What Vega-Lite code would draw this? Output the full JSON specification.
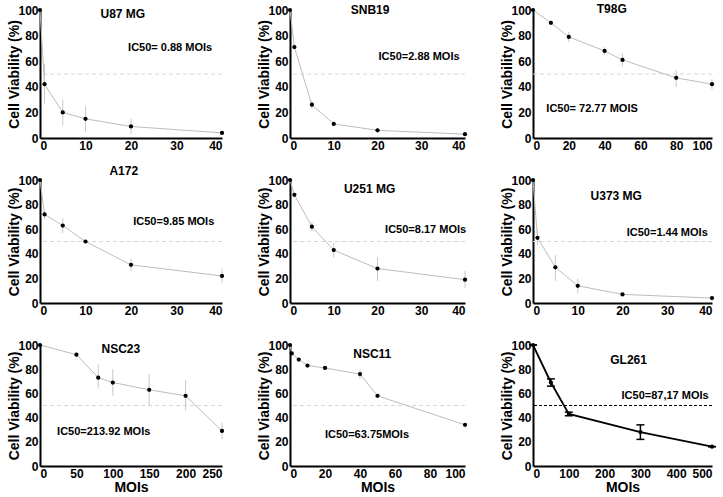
{
  "$schema": "https://vega.github.io/schema/vega-lite/v6.json",
  "background": "white",
  "padding": {"left": 7, "top": 2, "right": 0, "bottom": 0},
  "config": {
    "view": {"stroke": null},
    "axis": {"domainColor": "black", "domainWidth": 2, "ticks": false, "grid": false, "labelFont": "Liberation Sans", "labelFontWeight": "bold", "labelFontSize": 12, "labelColor": "black", "labelPadding": 2, "titleFont": "Liberation Sans", "titleFontWeight": "bold", "titleFontSize": 14, "titleColor": "black", "titlePadding": 1, "labelOverlap": false, "labelBound": false},
    "axisY": {"values": [0, 20, 40, 60, 80, 100], "titlePadding": -4},
    "text": {"font": "Liberation Sans", "fontWeight": "bold", "color": "black"}
  },
  "datasets": {
    "u87": [{"moi":0,"v":100,"lo":100,"hi":100},{"moi":1,"v":42,"lo":27,"hi":58},{"moi":5,"v":20,"lo":10,"hi":30},{"moi":10,"v":15,"lo":5,"hi":25},{"moi":20,"v":9,"lo":3,"hi":15},{"moi":40,"v":4,"lo":3,"hi":5}],
    "snb19": [{"moi":0,"v":100,"lo":100,"hi":100},{"moi":1,"v":71,"lo":70,"hi":72},{"moi":5,"v":26,"lo":23,"hi":29},{"moi":10,"v":11,"lo":10,"hi":12},{"moi":20,"v":6,"lo":5.5,"hi":6.5},{"moi":40,"v":3,"lo":2.5,"hi":3.5}],
    "t98g": [{"moi":0,"v":100,"lo":100,"hi":100},{"moi":10,"v":90,"lo":88,"hi":92},{"moi":20,"v":79,"lo":75,"hi":83},{"moi":40,"v":68,"lo":65,"hi":71},{"moi":50,"v":61,"lo":56,"hi":66},{"moi":80,"v":47,"lo":40,"hi":53},{"moi":100,"v":42,"lo":38,"hi":46}],
    "a172": [{"moi":0,"v":100,"lo":100,"hi":100},{"moi":1,"v":72,"lo":68,"hi":75},{"moi":5,"v":63,"lo":57,"hi":69},{"moi":10,"v":50,"lo":49,"hi":51},{"moi":20,"v":31,"lo":26,"hi":36},{"moi":40,"v":22,"lo":16,"hi":28}],
    "u251": [{"moi":0,"v":100,"lo":100,"hi":100},{"moi":1,"v":88,"lo":87,"hi":89},{"moi":5,"v":62,"lo":58,"hi":66},{"moi":10,"v":43,"lo":37,"hi":49},{"moi":20,"v":28,"lo":18,"hi":37},{"moi":40,"v":19,"lo":12,"hi":26}],
    "u373": [{"moi":0,"v":100,"lo":100,"hi":100},{"moi":1,"v":53,"lo":47,"hi":59},{"moi":5,"v":29,"lo":18,"hi":39},{"moi":10,"v":14,"lo":8,"hi":20},{"moi":20,"v":7,"lo":6,"hi":8},{"moi":40,"v":4,"lo":3,"hi":5}],
    "nsc23": [{"moi":0,"v":100,"lo":100,"hi":100},{"moi":50,"v":92,"lo":90,"hi":94},{"moi":80,"v":73,"lo":64,"hi":84},{"moi":100,"v":69,"lo":58,"hi":80},{"moi":150,"v":63,"lo":50,"hi":76},{"moi":200,"v":58,"lo":46,"hi":71},{"moi":250,"v":29,"lo":22,"hi":36}],
    "nsc11": [{"moi":0,"v":100,"lo":100,"hi":100},{"moi":1,"v":93,"lo":93,"hi":93},{"moi":5,"v":88,"lo":88,"hi":88},{"moi":10,"v":83,"lo":83,"hi":83},{"moi":20,"v":81,"lo":81,"hi":81},{"moi":40,"v":76,"lo":72,"hi":80},{"moi":50,"v":58,"lo":58,"hi":58},{"moi":100,"v":34,"lo":34,"hi":34}],
    "gl261": [{"moi":0,"v":100,"lo":100,"hi":100},{"moi":50,"v":69,"lo":66,"hi":72},{"moi":100,"v":43,"lo":41.5,"hi":44.5},{"moi":300,"v":28,"lo":22,"hi":34},{"moi":500,"v":16,"lo":16,"hi":16}],
    "one": [{}]
  },
  "columns": 3,
  "bounds": "flush",
  "align": "each",
  "spacing": {"row": 42, "column": 68},
  "resolve": {"scale": {"x": "independent", "y": "independent"}},
  "concat": [
    {
      "width": 182, "height": 128,
      "layer": [
        {"data": {"name": "one"}, "mark": {"type": "rule", "color": "#d8d8d8", "strokeDash": [4, 3], "strokeWidth": 1}, "encoding": {"y": {"datum": 50, "type": "quantitative", "title": "Cell Viability (%)", "scale": {"domain": [0, 100], "nice": false}}}},
        {"data": {"name": "u87"}, "mark": {"type": "rule", "color": "#c8c8c8", "strokeWidth": 1}, "encoding": {"x": {"field": "moi", "type": "quantitative", "title": null, "scale": {"domain": [0, 40], "nice": false}, "axis": {"values": [0, 10, 20, 30, 40]}}, "y": {"field": "lo", "type": "quantitative", "title": "Cell Viability (%)"}, "y2": {"field": "hi"}}},
        {"data": {"name": "u87"}, "mark": {"type": "line", "color": "#bdbdbd", "strokeWidth": 1}, "encoding": {"x": {"field": "moi", "type": "quantitative", "title": null, "axis": {"values": [0, 10, 20, 30, 40]}}, "y": {"field": "v", "type": "quantitative", "title": "Cell Viability (%)"}}},
        {"data": {"name": "u87"}, "mark": {"type": "point", "filled": true, "color": "black", "size": 18, "opacity": 1}, "encoding": {"x": {"field": "moi", "type": "quantitative", "title": null, "axis": {"values": [0, 10, 20, 30, 40]}}, "y": {"field": "v", "type": "quantitative", "title": "Cell Viability (%)"}}},
        {"data": {"name": "one"}, "mark": {"type": "text", "fontSize": 12}, "encoding": {"x": {"datum": 18.2, "type": "quantitative", "title": null, "axis": {"values": [0, 10, 20, 30, 40]}}, "y": {"datum": 97, "type": "quantitative", "title": "Cell Viability (%)"}, "text": {"value": "U87 MG"}}},
        {"data": {"name": "one"}, "mark": {"type": "text", "fontSize": 11}, "encoding": {"x": {"datum": 28.6, "type": "quantitative", "title": null, "axis": {"values": [0, 10, 20, 30, 40]}}, "y": {"datum": 70, "type": "quantitative", "title": "Cell Viability (%)"}, "text": {"value": "IC50= 0.88 MOIs"}}}
      ]
    },
    {
      "width": 175, "height": 128,
      "layer": [
        {"data": {"name": "one"}, "mark": {"type": "rule", "color": "#d8d8d8", "strokeDash": [4, 3], "strokeWidth": 1}, "encoding": {"y": {"datum": 50, "type": "quantitative", "title": "Cell Viability (%)", "scale": {"domain": [0, 100], "nice": false}}}},
        {"data": {"name": "snb19"}, "mark": {"type": "rule", "color": "#c8c8c8", "strokeWidth": 1}, "encoding": {"x": {"field": "moi", "type": "quantitative", "title": null, "scale": {"domain": [0, 40], "nice": false}, "axis": {"values": [0, 10, 20, 30, 40]}}, "y": {"field": "lo", "type": "quantitative", "title": "Cell Viability (%)"}, "y2": {"field": "hi"}}},
        {"data": {"name": "snb19"}, "mark": {"type": "line", "color": "#bdbdbd", "strokeWidth": 1}, "encoding": {"x": {"field": "moi", "type": "quantitative", "title": null, "axis": {"values": [0, 10, 20, 30, 40]}}, "y": {"field": "v", "type": "quantitative", "title": "Cell Viability (%)"}}},
        {"data": {"name": "snb19"}, "mark": {"type": "point", "filled": true, "color": "black", "size": 18, "opacity": 1}, "encoding": {"x": {"field": "moi", "type": "quantitative", "title": null, "axis": {"values": [0, 10, 20, 30, 40]}}, "y": {"field": "v", "type": "quantitative", "title": "Cell Viability (%)"}}},
        {"data": {"name": "one"}, "mark": {"type": "text", "fontSize": 12}, "encoding": {"x": {"datum": 18.3, "type": "quantitative", "title": null, "axis": {"values": [0, 10, 20, 30, 40]}}, "y": {"datum": 100, "type": "quantitative", "title": "Cell Viability (%)"}, "text": {"value": "SNB19"}}},
        {"data": {"name": "one"}, "mark": {"type": "text", "fontSize": 11}, "encoding": {"x": {"datum": 29.5, "type": "quantitative", "title": null, "axis": {"values": [0, 10, 20, 30, 40]}}, "y": {"datum": 63, "type": "quantitative", "title": "Cell Viability (%)"}, "text": {"value": "IC50=2.88 MOIs"}}}
      ]
    },
    {
      "width": 179, "height": 128,
      "layer": [
        {"data": {"name": "one"}, "mark": {"type": "rule", "color": "#d8d8d8", "strokeDash": [4, 3], "strokeWidth": 1}, "encoding": {"y": {"datum": 50, "type": "quantitative", "title": "Cell Viability (%)", "scale": {"domain": [0, 100], "nice": false}}}},
        {"data": {"name": "t98g"}, "mark": {"type": "rule", "color": "#c8c8c8", "strokeWidth": 1}, "encoding": {"x": {"field": "moi", "type": "quantitative", "title": null, "scale": {"domain": [0, 100], "nice": false}, "axis": {"values": [0, 20, 40, 60, 80, 100]}}, "y": {"field": "lo", "type": "quantitative", "title": "Cell Viability (%)"}, "y2": {"field": "hi"}}},
        {"data": {"name": "t98g"}, "mark": {"type": "line", "color": "#bdbdbd", "strokeWidth": 1}, "encoding": {"x": {"field": "moi", "type": "quantitative", "title": null, "axis": {"values": [0, 20, 40, 60, 80, 100]}}, "y": {"field": "v", "type": "quantitative", "title": "Cell Viability (%)"}}},
        {"data": {"name": "t98g"}, "mark": {"type": "point", "filled": true, "color": "black", "size": 18, "opacity": 1}, "encoding": {"x": {"field": "moi", "type": "quantitative", "title": null, "axis": {"values": [0, 20, 40, 60, 80, 100]}}, "y": {"field": "v", "type": "quantitative", "title": "Cell Viability (%)"}}},
        {"data": {"name": "one"}, "mark": {"type": "text", "fontSize": 12}, "encoding": {"x": {"datum": 44, "type": "quantitative", "title": null, "axis": {"values": [0, 20, 40, 60, 80, 100]}}, "y": {"datum": 101, "type": "quantitative", "title": "Cell Viability (%)"}, "text": {"value": "T98G"}}},
        {"data": {"name": "one"}, "mark": {"type": "text", "fontSize": 11}, "encoding": {"x": {"datum": 33, "type": "quantitative", "title": null, "axis": {"values": [0, 20, 40, 60, 80, 100]}}, "y": {"datum": 23, "type": "quantitative", "title": "Cell Viability (%)"}, "text": {"value": "IC50= 72.77 MOIS"}}}
      ]
    },
    {
      "width": 182, "height": 123,
      "layer": [
        {"data": {"name": "one"}, "mark": {"type": "rule", "color": "#d8d8d8", "strokeDash": [4, 3], "strokeWidth": 1}, "encoding": {"y": {"datum": 50, "type": "quantitative", "title": "Cell Viability (%)", "scale": {"domain": [0, 100], "nice": false}}}},
        {"data": {"name": "a172"}, "mark": {"type": "rule", "color": "#c8c8c8", "strokeWidth": 1}, "encoding": {"x": {"field": "moi", "type": "quantitative", "title": null, "scale": {"domain": [0, 40], "nice": false}, "axis": {"values": [0, 10, 20, 30, 40]}}, "y": {"field": "lo", "type": "quantitative", "title": "Cell Viability (%)"}, "y2": {"field": "hi"}}},
        {"data": {"name": "a172"}, "mark": {"type": "line", "color": "#bdbdbd", "strokeWidth": 1}, "encoding": {"x": {"field": "moi", "type": "quantitative", "title": null, "axis": {"values": [0, 10, 20, 30, 40]}}, "y": {"field": "v", "type": "quantitative", "title": "Cell Viability (%)"}}},
        {"data": {"name": "a172"}, "mark": {"type": "point", "filled": true, "color": "black", "size": 18, "opacity": 1}, "encoding": {"x": {"field": "moi", "type": "quantitative", "title": null, "axis": {"values": [0, 10, 20, 30, 40]}}, "y": {"field": "v", "type": "quantitative", "title": "Cell Viability (%)"}}},
        {"data": {"name": "one"}, "mark": {"type": "text", "fontSize": 12}, "encoding": {"x": {"datum": 18.4, "type": "quantitative", "title": null, "axis": {"values": [0, 10, 20, 30, 40]}}, "y": {"datum": 107, "type": "quantitative", "title": "Cell Viability (%)"}, "text": {"value": "A172"}}},
        {"data": {"name": "one"}, "mark": {"type": "text", "fontSize": 11}, "encoding": {"x": {"datum": 29.4, "type": "quantitative", "title": null, "axis": {"values": [0, 10, 20, 30, 40]}}, "y": {"datum": 66, "type": "quantitative", "title": "Cell Viability (%)"}, "text": {"value": "IC50=9.85 MOIs"}}}
      ]
    },
    {
      "width": 175, "height": 123,
      "layer": [
        {"data": {"name": "one"}, "mark": {"type": "rule", "color": "#d8d8d8", "strokeDash": [4, 3], "strokeWidth": 1}, "encoding": {"y": {"datum": 50, "type": "quantitative", "title": "Cell Viability (%)", "scale": {"domain": [0, 100], "nice": false}}}},
        {"data": {"name": "u251"}, "mark": {"type": "rule", "color": "#c8c8c8", "strokeWidth": 1}, "encoding": {"x": {"field": "moi", "type": "quantitative", "title": null, "scale": {"domain": [0, 40], "nice": false}, "axis": {"values": [0, 10, 20, 30, 40]}}, "y": {"field": "lo", "type": "quantitative", "title": "Cell Viability (%)"}, "y2": {"field": "hi"}}},
        {"data": {"name": "u251"}, "mark": {"type": "line", "color": "#bdbdbd", "strokeWidth": 1}, "encoding": {"x": {"field": "moi", "type": "quantitative", "title": null, "axis": {"values": [0, 10, 20, 30, 40]}}, "y": {"field": "v", "type": "quantitative", "title": "Cell Viability (%)"}}},
        {"data": {"name": "u251"}, "mark": {"type": "point", "filled": true, "color": "black", "size": 18, "opacity": 1}, "encoding": {"x": {"field": "moi", "type": "quantitative", "title": null, "axis": {"values": [0, 10, 20, 30, 40]}}, "y": {"field": "v", "type": "quantitative", "title": "Cell Viability (%)"}}},
        {"data": {"name": "one"}, "mark": {"type": "text", "fontSize": 12}, "encoding": {"x": {"datum": 18.2, "type": "quantitative", "title": null, "axis": {"values": [0, 10, 20, 30, 40]}}, "y": {"datum": 93, "type": "quantitative", "title": "Cell Viability (%)"}, "text": {"value": "U251 MG"}}},
        {"data": {"name": "one"}, "mark": {"type": "text", "fontSize": 11}, "encoding": {"x": {"datum": 31, "type": "quantitative", "title": null, "axis": {"values": [0, 10, 20, 30, 40]}}, "y": {"datum": 59.5, "type": "quantitative", "title": "Cell Viability (%)"}, "text": {"value": "IC50=8.17 MOIs"}}}
      ]
    },
    {
      "width": 179, "height": 123,
      "layer": [
        {"data": {"name": "one"}, "mark": {"type": "rule", "color": "#d8d8d8", "strokeDash": [4, 3], "strokeWidth": 1}, "encoding": {"y": {"datum": 50, "type": "quantitative", "title": "Cell Viability (%)", "scale": {"domain": [0, 100], "nice": false}}}},
        {"data": {"name": "u373"}, "mark": {"type": "rule", "color": "#c8c8c8", "strokeWidth": 1}, "encoding": {"x": {"field": "moi", "type": "quantitative", "title": null, "scale": {"domain": [0, 40], "nice": false}, "axis": {"values": [0, 10, 20, 30, 40]}}, "y": {"field": "lo", "type": "quantitative", "title": "Cell Viability (%)"}, "y2": {"field": "hi"}}},
        {"data": {"name": "u373"}, "mark": {"type": "line", "color": "#bdbdbd", "strokeWidth": 1}, "encoding": {"x": {"field": "moi", "type": "quantitative", "title": null, "axis": {"values": [0, 10, 20, 30, 40]}}, "y": {"field": "v", "type": "quantitative", "title": "Cell Viability (%)"}}},
        {"data": {"name": "u373"}, "mark": {"type": "point", "filled": true, "color": "black", "size": 18, "opacity": 1}, "encoding": {"x": {"field": "moi", "type": "quantitative", "title": null, "axis": {"values": [0, 10, 20, 30, 40]}}, "y": {"field": "v", "type": "quantitative", "title": "Cell Viability (%)"}}},
        {"data": {"name": "one"}, "mark": {"type": "text", "fontSize": 12}, "encoding": {"x": {"datum": 18.6, "type": "quantitative", "title": null, "axis": {"values": [0, 10, 20, 30, 40]}}, "y": {"datum": 87, "type": "quantitative", "title": "Cell Viability (%)"}, "text": {"value": "U373 MG"}}},
        {"data": {"name": "one"}, "mark": {"type": "text", "fontSize": 11}, "encoding": {"x": {"datum": 30, "type": "quantitative", "title": null, "axis": {"values": [0, 10, 20, 30, 40]}}, "y": {"datum": 57, "type": "quantitative", "title": "Cell Viability (%)"}, "text": {"value": "IC50=1.44 MOIs"}}}
      ]
    },
    {
      "width": 182, "height": 121,
      "layer": [
        {"data": {"name": "one"}, "mark": {"type": "rule", "color": "#d8d8d8", "strokeDash": [4, 3], "strokeWidth": 1}, "encoding": {"y": {"datum": 50, "type": "quantitative", "title": "Cell Viability (%)", "scale": {"domain": [0, 100], "nice": false}}}},
        {"data": {"name": "nsc23"}, "mark": {"type": "rule", "color": "#c8c8c8", "strokeWidth": 1}, "encoding": {"x": {"field": "moi", "type": "quantitative", "title": "MOIs", "scale": {"domain": [0, 250], "nice": false}, "axis": {"values": [0, 50, 100, 150, 200, 250]}}, "y": {"field": "lo", "type": "quantitative", "title": "Cell Viability (%)"}, "y2": {"field": "hi"}}},
        {"data": {"name": "nsc23"}, "mark": {"type": "line", "color": "#bdbdbd", "strokeWidth": 1}, "encoding": {"x": {"field": "moi", "type": "quantitative", "title": "MOIs", "axis": {"values": [0, 50, 100, 150, 200, 250]}}, "y": {"field": "v", "type": "quantitative", "title": "Cell Viability (%)"}}},
        {"data": {"name": "nsc23"}, "mark": {"type": "point", "filled": true, "color": "black", "size": 18, "opacity": 1}, "encoding": {"x": {"field": "moi", "type": "quantitative", "title": "MOIs", "axis": {"values": [0, 50, 100, 150, 200, 250]}}, "y": {"field": "v", "type": "quantitative", "title": "Cell Viability (%)"}}},
        {"data": {"name": "one"}, "mark": {"type": "text", "fontSize": 12}, "encoding": {"x": {"datum": 111, "type": "quantitative", "title": "MOIs", "axis": {"values": [0, 50, 100, 150, 200, 250]}}, "y": {"datum": 97, "type": "quantitative", "title": "Cell Viability (%)"}, "text": {"value": "NSC23"}}},
        {"data": {"name": "one"}, "mark": {"type": "text", "fontSize": 11}, "encoding": {"x": {"datum": 87.5, "type": "quantitative", "title": "MOIs", "axis": {"values": [0, 50, 100, 150, 200, 250]}}, "y": {"datum": 28, "type": "quantitative", "title": "Cell Viability (%)"}, "text": {"value": "IC50=213.92 MOIs"}}}
      ]
    },
    {
      "width": 175, "height": 121,
      "layer": [
        {"data": {"name": "one"}, "mark": {"type": "rule", "color": "#d8d8d8", "strokeDash": [4, 3], "strokeWidth": 1}, "encoding": {"y": {"datum": 50, "type": "quantitative", "title": "Cell Viability (%)", "scale": {"domain": [0, 100], "nice": false}}}},
        {"data": {"name": "nsc11"}, "mark": {"type": "rule", "color": "#c8c8c8", "strokeWidth": 1}, "encoding": {"x": {"field": "moi", "type": "quantitative", "title": "MOIs", "scale": {"domain": [0, 100], "nice": false}, "axis": {"values": [0, 20, 40, 60, 80, 100]}}, "y": {"field": "lo", "type": "quantitative", "title": "Cell Viability (%)"}, "y2": {"field": "hi"}}},
        {"data": {"name": "nsc11"}, "mark": {"type": "line", "color": "#bdbdbd", "strokeWidth": 1}, "encoding": {"x": {"field": "moi", "type": "quantitative", "title": "MOIs", "axis": {"values": [0, 20, 40, 60, 80, 100]}}, "y": {"field": "v", "type": "quantitative", "title": "Cell Viability (%)"}}},
        {"data": {"name": "nsc11"}, "mark": {"type": "point", "filled": true, "color": "black", "size": 18, "opacity": 1}, "encoding": {"x": {"field": "moi", "type": "quantitative", "title": "MOIs", "axis": {"values": [0, 20, 40, 60, 80, 100]}}, "y": {"field": "v", "type": "quantitative", "title": "Cell Viability (%)"}}},
        {"data": {"name": "one"}, "mark": {"type": "text", "fontSize": 12}, "encoding": {"x": {"datum": 47, "type": "quantitative", "title": "MOIs", "axis": {"values": [0, 20, 40, 60, 80, 100]}}, "y": {"datum": 92.5, "type": "quantitative", "title": "Cell Viability (%)"}, "text": {"value": "NSC11"}}},
        {"data": {"name": "one"}, "mark": {"type": "text", "fontSize": 11}, "encoding": {"x": {"datum": 44, "type": "quantitative", "title": "MOIs", "axis": {"values": [0, 20, 40, 60, 80, 100]}}, "y": {"datum": 26, "type": "quantitative", "title": "Cell Viability (%)"}, "text": {"value": "IC50=63.75MOIs"}}}
      ]
    },
    {
      "width": 179, "height": 121,
      "layer": [
        {"data": {"name": "one"}, "mark": {"type": "rule", "color": "black", "strokeDash": [3, 2], "strokeWidth": 1}, "encoding": {"y": {"datum": 50, "type": "quantitative", "title": "Cell Viability (%)", "scale": {"domain": [0, 100], "nice": false}}}},
        {"data": {"name": "gl261"}, "mark": {"type": "rule", "color": "black", "strokeWidth": 1.5}, "encoding": {"x": {"field": "moi", "type": "quantitative", "title": "MOIs", "scale": {"domain": [0, 500], "nice": false}, "axis": {"values": [0, 100, 200, 300, 400, 500]}}, "y": {"field": "lo", "type": "quantitative", "title": "Cell Viability (%)"}, "y2": {"field": "hi"}}},
        {"data": {"name": "gl261"}, "mark": {"type": "tick", "orient": "horizontal", "color": "black", "size": 8, "thickness": 1.5, "opacity": 1}, "encoding": {"x": {"field": "moi", "type": "quantitative", "title": "MOIs", "axis": {"values": [0, 100, 200, 300, 400, 500]}}, "y": {"field": "lo", "type": "quantitative", "title": "Cell Viability (%)"}}},
        {"data": {"name": "gl261"}, "mark": {"type": "tick", "orient": "horizontal", "color": "black", "size": 8, "thickness": 1.5, "opacity": 1}, "encoding": {"x": {"field": "moi", "type": "quantitative", "title": "MOIs", "axis": {"values": [0, 100, 200, 300, 400, 500]}}, "y": {"field": "hi", "type": "quantitative", "title": "Cell Viability (%)"}}},
        {"data": {"name": "gl261"}, "mark": {"type": "line", "color": "black", "strokeWidth": 1.8}, "encoding": {"x": {"field": "moi", "type": "quantitative", "title": "MOIs", "axis": {"values": [0, 100, 200, 300, 400, 500]}}, "y": {"field": "v", "type": "quantitative", "title": "Cell Viability (%)"}}},
        {"data": {"name": "gl261"}, "mark": {"type": "point", "filled": true, "color": "black", "size": 18, "opacity": 1}, "encoding": {"x": {"field": "moi", "type": "quantitative", "title": "MOIs", "axis": {"values": [0, 100, 200, 300, 400, 500]}}, "y": {"field": "v", "type": "quantitative", "title": "Cell Viability (%)"}}},
        {"data": {"name": "one"}, "mark": {"type": "text", "fontSize": 12}, "encoding": {"x": {"datum": 267, "type": "quantitative", "title": "MOIs", "axis": {"values": [0, 100, 200, 300, 400, 500]}}, "y": {"datum": 88, "type": "quantitative", "title": "Cell Viability (%)"}, "text": {"value": "GL261"}}},
        {"data": {"name": "one"}, "mark": {"type": "text", "fontSize": 11}, "encoding": {"x": {"datum": 369, "type": "quantitative", "title": "MOIs", "axis": {"values": [0, 100, 200, 300, 400, 500]}}, "y": {"datum": 58, "type": "quantitative", "title": "Cell Viability (%)"}, "text": {"value": "IC50=87,17 MOIs"}}}
      ]
    }
  ]
}
